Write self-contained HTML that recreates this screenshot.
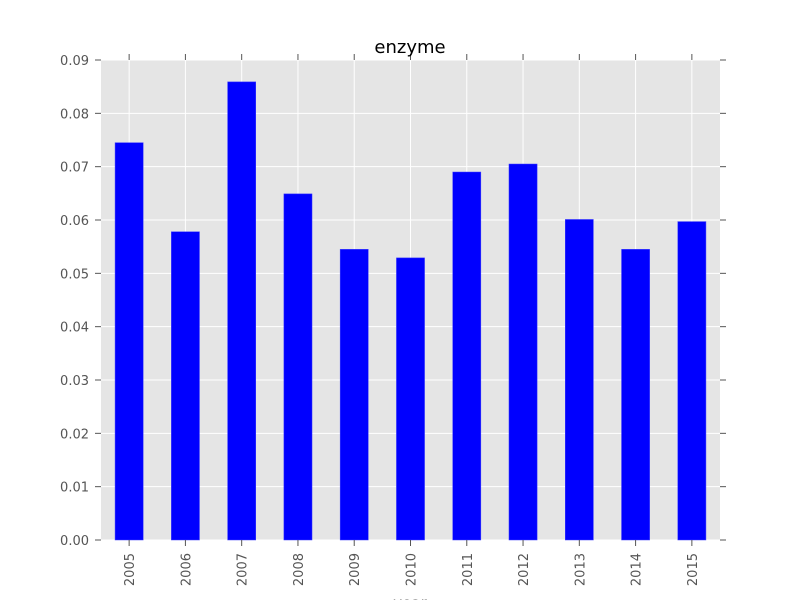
<!DOCTYPE html>
<html><head><meta charset="utf-8"><style>
body{margin:0;background:#fff;}
svg{display:block;font-family:"DejaVu Sans","Liberation Sans",sans-serif;}
</style></head><body>
<svg id="chart" width="800" height="600">
<rect x="0" y="0" width="800" height="600" fill="#fff"/>
<rect x="101" y="60" width="619" height="480" fill="#e5e5e5"/>
<g id="grid"></g><g id="bars"></g><g id="axes"></g>
<text x="410" y="53" font-size="18" text-anchor="middle" fill="#000">enzyme</text>
<text x="410" y="608" font-size="15" text-anchor="middle" fill="#555">year</text>
</svg>
<script>
const categories=["2005","2006","2007","2008","2009","2010","2011","2012","2013","2014","2015"];
const values=[0.0745,0.0578,0.0859,0.0649,0.0545,0.0529,0.0690,0.0705,0.0601,0.0545,0.0597];
const yTicks=[0,0.01,0.02,0.03,0.04,0.05,0.06,0.07,0.08,0.09];
const yTickLabels=["0.00","0.01","0.02","0.03","0.04","0.05","0.06","0.07","0.08","0.09"];
const L=101,R=720,T=60,B=540,YMAX=0.09;
const NS="http://www.w3.org/2000/svg";
const y=v=>B-(v/YMAX)*(B-T);
const step=(R-L)/categories.length;
const xc=i=>L+step*(i+0.5);
const grid=document.getElementById('grid'),bars=document.getElementById('bars'),axes=document.getElementById('axes');
function mk(tag,attrs,parent){const e=document.createElementNS(NS,tag);for(const k in attrs)e.setAttribute(k,attrs[k]);parent.appendChild(e);return e;}
yTicks.forEach((t,i)=>{
  const yy=y(t);
  mk('line',{x1:L,x2:R,y1:yy,y2:yy,stroke:'#fff','stroke-width':1},grid);
  mk('line',{x1:L-6,x2:L,y1:yy,y2:yy,stroke:'#555'},axes);
  mk('line',{x1:R,x2:R+6,y1:yy,y2:yy,stroke:'#555'},axes);
  const tx=mk('text',{x:L-12,y:yy+5,'font-size':13,'text-anchor':'end',fill:'#555'},axes);
  tx.textContent=yTickLabels[i];
  
  
});
categories.forEach((c,i)=>{
  const x=xc(i);
  mk('line',{x1:x,x2:x,y1:T,y2:B,stroke:'#fff','stroke-width':1},grid);
  const h=B-y(values[i]);
  const r=mk('rect',{x:x-step*0.25,y:y(values[i]),width:step*0.5,height:h,fill:'#0000ff',stroke:'#4040ff','stroke-width':0.5},bars);
  
  
  mk('line',{x1:x,x2:x,y1:B,y2:B+6,stroke:'#555'},axes);
  mk('line',{x1:x,x2:x,y1:T-6,y2:T,stroke:'#555'},axes);
  const tx=mk('text',{x:0,y:0,'font-size':13,'text-anchor':'end',fill:'#555',transform:`translate(${x+5},${B+6+7}) rotate(-90)`},axes);
  tx.textContent=c;
  
  
});
</script>
</body></html>
